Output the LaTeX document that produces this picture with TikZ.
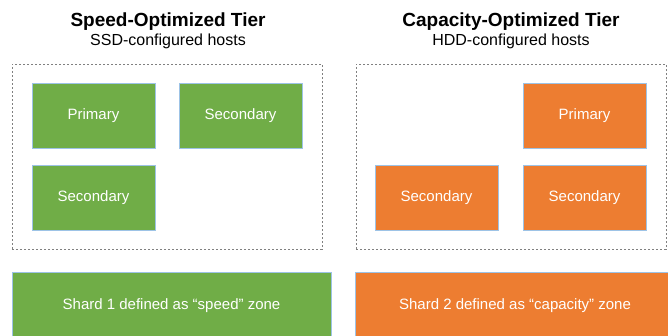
\documentclass[tikz,border=0pt]{standalone}
\usepackage{fontspec}
\setmainfont{Liberation Sans}
\usetikzlibrary{positioning}
\definecolor{SpeedGreen}{HTML}{70AD47}
\definecolor{CapOrange}{HTML}{ED7D31}
\definecolor{EdgeBlue}{HTML}{9DC3E6}
\definecolor{DashGray}{HTML}{808080}
\tikzset{
tierhead/.style={align=center, inner sep=0pt, font=\fontsize{19}{22}\selectfont\bfseries},
tiersub/.style={align=center, inner sep=0pt, font=\fontsize{16}{19}\selectfont},
zonedash/.style={draw=DashGray, semithick, dash pattern=on 2.2pt off 1.8pt, inner sep=0pt},
speedhost/.style={draw=EdgeBlue, fill=SpeedGreen, text=white, minimum width=123pt, minimum height=65pt, inner sep=0pt, font=\fontsize{15}{18}\selectfont},
caphost/.style={speedhost, fill=CapOrange},
speedshard/.style={draw=EdgeBlue, fill=SpeedGreen, text=white, minimum height=68pt, inner sep=0pt, font=\fontsize{15}{18}\selectfont},
capshard/.style={speedshard, fill=CapOrange}
}
\begin{document}
\begin{tikzpicture}[x=1pt, y=-1pt]
  \useasboundingbox (0,0) rectangle (668,335);
  % tier headings
  \node[tierhead, anchor=base] (speedtitle) at (168,26) {Speed-Optimized Tier};
  \node[tiersub, anchor=base] (speedsub) at (168,45) {SSD-configured hosts};
  \node[tierhead, anchor=base] (captitle) at (511,26) {Capacity-Optimized Tier};
  \node[tiersub, anchor=base] (capsub) at (511,45) {HDD-configured hosts};
  % dashed host groups
  \node[zonedash, minimum width=310pt, minimum height=185pt] (speedzone) at (167,156.5) {};
  \node[zonedash, minimum width=310pt, minimum height=185pt] (capzone) at (511,156.5) {};
  % speed tier hosts
  \node[speedhost] (sprim) at (93.5,115.5) {Primary};
  \node[speedhost] (ssecA) at (240.5,115.5) {Secondary};
  \node[speedhost] (ssecB) at (93.5,198) {Secondary};
  % capacity tier hosts
  \node[caphost] (cprim) at (584.5,115.5) {Primary};
  \node[caphost] (csecA) at (436.5,198) {Secondary};
  \node[caphost] (csecB) at (584.5,198) {Secondary};
  % shards
  \node[speedshard, minimum width=319pt] (shardone) at (171.5,306) {Shard 1 defined as “speed” zone};
  \node[capshard, minimum width=320pt] (shardtwo) at (515,306) {Shard 2 defined as “capacity” zone};
\end{tikzpicture}
\end{document}
